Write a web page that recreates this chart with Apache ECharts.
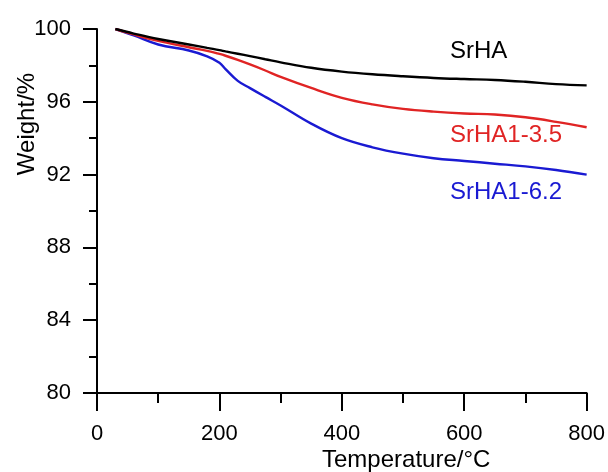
<!DOCTYPE html>
<html>
<head>
<meta charset="utf-8">
<script src="https://cdn.jsdelivr.net/npm/echarts@6/dist/echarts.min.js"></script>
<style>
  html, body { margin: 0; padding: 0; background: #fff; }
  #chart { width: 608px; height: 472px; }
</style>
</head>
<body>
<div id="chart"></div>
<script>
// TGA curves: weight retained vs. temperature
const temperature = [30, 60, 100, 150, 180, 200, 210, 230, 250, 275, 300, 350, 400, 450, 500, 550, 600, 650, 700, 750, 800];
const srHA     = [100, 99.75, 99.45, 99.15, 98.96, 98.84, 98.77, 98.64, 98.51, 98.34, 98.17, 97.87, 97.66, 97.51, 97.4, 97.31, 97.25, 97.2, 97.1, 96.97, 96.9];
const srHA135  = [100, 99.7, 99.35, 99.0, 98.8, 98.63, 98.53, 98.3, 98.05, 97.72, 97.37, 96.76, 96.22, 95.86, 95.61, 95.46, 95.36, 95.3, 95.15, 94.9, 94.6];
const srHA162  = [100, 99.65, 99.15, 98.82, 98.5, 98.15, 97.8, 97.15, 96.75, 96.27, 95.8, 94.8, 94.0, 93.5, 93.15, 92.9, 92.75, 92.6, 92.45, 92.25, 92.0];
const seriesNames = ['SrHA', 'SrHA1-3.5', 'SrHA1-6.2'];
const seriesColors = ['#000000', '#e02424', '#1a1ad2'];
const xTicks = [0, 200, 400, 600, 800];
const yTicks = [80, 84, 88, 92, 96, 100];

const pairs = ys => temperature.map((t, i) => [t, ys[i]]);
const font = 'Liberation Sans, Arial, sans-serif';

const chart = echarts.init(document.getElementById('chart'), null, { renderer: 'canvas' });

const axisCommon = {
  axisLine: { show: true, lineStyle: { color: '#000', width: 2 } },
  splitLine: { show: false },
  minorSplitLine: { show: false },
  axisLabel: { color: '#000', fontFamily: font, fontSize: 22 }
};

chart.setOption({
  animation: false,
  backgroundColor: '#fff',
  grid: { left: 97, top: 29, right: 20, bottom: 79, containLabel: false },
  xAxis: Object.assign({}, axisCommon, {
    type: 'value',
    min: xTicks[0], max: xTicks[xTicks.length - 1], interval: 200,
    axisTick: { show: true, inside: false, length: 18, lineStyle: { color: '#000', width: 2 } },
    minorTick: { show: true, splitNumber: 2, length: 10, lineStyle: { color: '#000', width: 2 } },
    axisLabel: Object.assign({}, axisCommon.axisLabel, { margin: 30 })
  }),
  yAxis: Object.assign({}, axisCommon, {
    type: 'value',
    min: yTicks[0], max: yTicks[yTicks.length - 1], interval: 4,
    axisTick: { show: true, inside: false, length: 14, lineStyle: { color: '#000', width: 2 } },
    minorTick: { show: true, splitNumber: 2, length: 8, lineStyle: { color: '#000', width: 2 } },
    axisLabel: Object.assign({}, axisCommon.axisLabel, { margin: 26 })
  }),
  series: [srHA, srHA135, srHA162].map((ys, i) => ({
    name: seriesNames[i],
    type: 'line',
    data: pairs(ys),
    smooth: 0.4,
    showSymbol: false,
    lineStyle: { color: seriesColors[i], width: 2.4 },
    z: 3 - i
  })),
  graphic: [
    { type: 'text', left: 322, top: 448, style: { text: 'Temperature/°C', font: '24px ' + font, fill: '#000' } },
    { type: 'text', x: 27, y: 124, rotation: Math.PI / 2, style: { text: 'Weight/%', font: '24px ' + font, fill: '#000', align: 'center', verticalAlign: 'middle' } },
    { type: 'text', x: 450, y: 51, style: { text: seriesNames[0], font: '24px ' + font, fill: seriesColors[0], verticalAlign: 'middle' } },
    { type: 'text', x: 450, y: 135, style: { text: seriesNames[1], font: '24px ' + font, fill: seriesColors[1], verticalAlign: 'middle' } },
    { type: 'text', x: 450, y: 192, style: { text: seriesNames[2], font: '24px ' + font, fill: seriesColors[2], verticalAlign: 'middle' } }
  ]
});
</script>
</body>
</html>
